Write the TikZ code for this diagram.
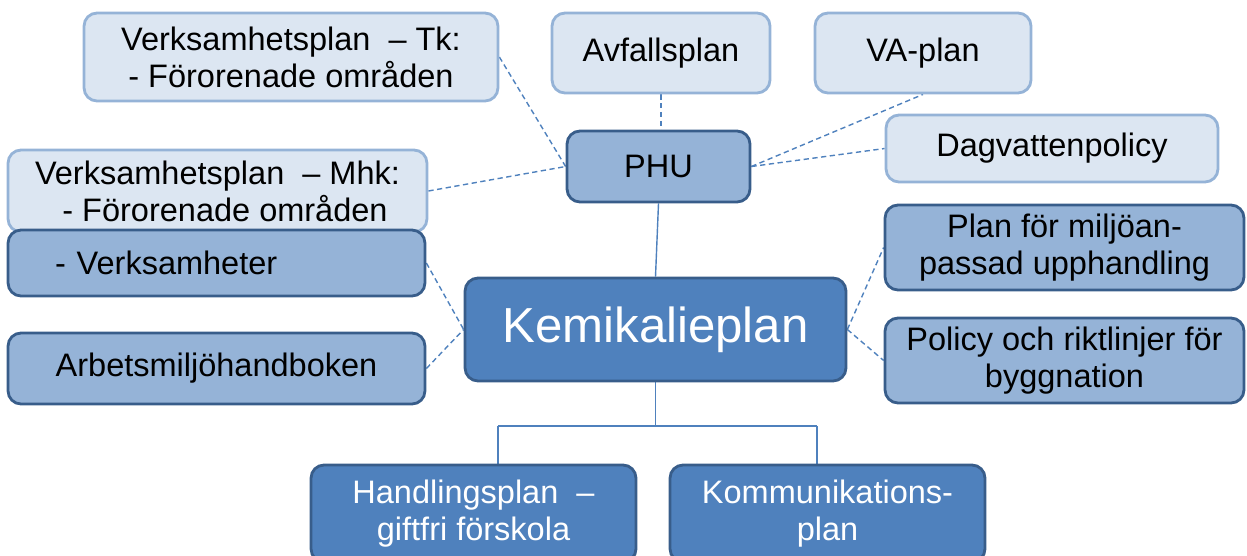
\documentclass[tikz,border=0pt]{standalone}
\usepackage{fontspec}
\setmainfont{Liberation Sans}
\usetikzlibrary{backgrounds}
\definecolor{lightfill}{HTML}{DCE6F2}
\definecolor{lightline}{HTML}{95B3D7}
\definecolor{midfill}{HTML}{95B3D7}
\definecolor{darkline}{HTML}{385D8A}
\definecolor{darkfill}{HTML}{4F81BD}
\definecolor{conn}{HTML}{4F81BD}
\tikzset{
  box/.style={rectangle, rounded corners=0.26cm, line width=1.6pt, inner sep=0pt, align=center,
    font=\fontsize{18.5}{21}\selectfont},
  lightbox/.style={box, fill=lightfill, draw=lightline, text=black},
  midbox/.style={box, fill=midfill, draw=darkline, text=black},
  darkbox/.style={box, fill=darkfill, draw=darkline, text=white},
  dashlink/.style={draw=conn, line width=0.8pt, dash pattern=on 3pt off 2pt},
  solidlink/.style={draw=conn, line width=0.8pt},
}
\begin{document}
\begin{tikzpicture}[x=0.02cm, y=-0.02cm]
\useasboundingbox (0,0) rectangle (1247,555);
% top row
\node[lightbox, minimum width=8.28cm, minimum height=1.76cm] (tk) at (291,57)
  {Verksamhetsplan \ – Tk:\\- Förorenade områden};
\node[lightbox, minimum width=4.36cm, minimum height=1.60cm] (avf) at (661,53) {Avfallsplan};
\node[lightbox, minimum width=4.32cm, minimum height=1.60cm] (va) at (923,53) {VA-plan};
\node[midbox, minimum width=3.66cm, minimum height=1.42cm] (phu) at (658.5,166.5) {PHU};
\node[lightbox, minimum width=6.64cm, minimum height=1.34cm] (dag) at (1052,148.5) {Dagvattenpolicy};
% left column
\node[lightbox, minimum width=8.38cm, minimum height=1.64cm] (mhk) at (217.5,191)
  {Verksamhetsplan \ – Mhk:\\\hspace*{0.3cm}- Förorenade områden};
\node[midbox, minimum width=8.34cm, minimum height=1.32cm, text width=8.34cm, align=left] (verk) at (216.5,263)
  {\hspace*{0.94cm}- Verksamheter};
\node[midbox, minimum width=8.34cm, minimum height=1.42cm] (arb) at (216.5,368.5) {Arbetsmiljöhandboken};
% center
\node[darkbox, minimum width=7.62cm, minimum height=2.06cm, font=\fontsize{28}{32}\selectfont] (kem) at (655.5,329.5) {Kemikalieplan};
% right column
\node[midbox, minimum width=7.18cm, minimum height=1.70cm] (plan) at (1064.5,247.5)
  {Plan för miljöan-\\passad upphandling};
\node[midbox, minimum width=7.18cm, minimum height=1.70cm] (pol) at (1064.5,360.5)
  {Policy och riktlinjer för\\byggnation};
% bottom
\node[darkbox, minimum width=6.50cm, minimum height=1.94cm] (hand) at (473.5,513.5)
  {Handlingsplan \ –\\giftfri förskola};
\node[darkbox, minimum width=6.30cm, minimum height=1.94cm] (komm) at (827.5,513.5)
  {Kommunikations-\\plan};
\coordinate (j) at (655.5,426);
\coordinate (hl) at (498,426);
\coordinate (hr) at (817,426);
\begin{scope}[on background layer]
  \draw[dashlink] (avf.south) -- (avf.south |- phu.north);
  \draw[dashlink] (phu.east) -- (va.south);
  \draw[dashlink] (phu.east) -- (dag.west);
  \draw[dashlink] (tk.east) -- (phu.west);
  \draw[dashlink] (mhk.east) -- (phu.west);
  \draw[solidlink] (phu.south) -- (kem.north);
  \draw[dashlink] (verk.east) -- (kem.west);
  \draw[dashlink] (arb.east) -- (kem.west);
  \draw[dashlink] (kem.east) -- (plan.west);
  \draw[dashlink] (kem.east) -- (pol.west);
  \draw[solidlink] (kem.south) -- (j);
  \draw[solidlink] (hl) -- (hr);
  \draw[solidlink] (hl) -- (hl |- hand.north);
  \draw[solidlink] (hr) -- (hr |- komm.north);
\end{scope}
\end{tikzpicture}
\end{document}
